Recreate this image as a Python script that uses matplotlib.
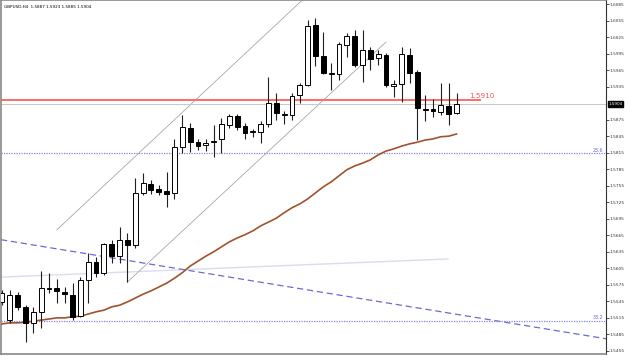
import numpy as np
import matplotlib
matplotlib.use("Agg")
import matplotlib.pyplot as plt

title = "GBPUSD,H4  1.5887 1.5923 1.5885 1.5904"

opens = [1.5544, 1.5511, 1.5557, 1.5535, 1.5506, 1.5526, 1.5567, 1.5569, 1.5562, 1.5557,
         1.5518, 1.5584, 1.5617, 1.5597, 1.5649, 1.5627, 1.5657, 1.5647, 1.5742, 1.5758,
         1.5749, 1.5745, 1.5742, 1.5825, 1.5860, 1.5834, 1.5829, 1.5834, 1.5840, 1.5865,
         1.5882, 1.5864, 1.5853, 1.5853, 1.5867, 1.5905, 1.5884, 1.5884, 1.5920, 1.5938,
         1.6047, 1.5991, 1.5958, 1.5958, 1.6011, 1.6027, 1.5974, 1.6002, 1.5987, 1.5992,
         1.5937, 1.5940, 1.5992, 1.5962, 1.5894, 1.5895, 1.5889, 1.5900, 1.5887]
highs = [1.5566, 1.5566, 1.5562, 1.5538, 1.5535, 1.5600, 1.5597, 1.5586, 1.5571, 1.5578,
         1.5589, 1.5633, 1.5626, 1.5651, 1.5657, 1.5680, 1.5669, 1.5769, 1.5778, 1.5765,
         1.5756, 1.5780, 1.5840, 1.5884, 1.5869, 1.5840, 1.5840, 1.5865, 1.5878, 1.5885,
         1.5885, 1.5869, 1.5858, 1.5873, 1.5953, 1.5923, 1.5891, 1.5923, 1.5942, 1.6056,
         1.6060, 1.6034, 1.5978, 1.6016, 1.6032, 1.6038, 1.6038, 1.6007, 1.6002, 1.5996,
         1.5947, 1.6007, 1.6005, 1.5965, 1.5920, 1.5913, 1.5942, 1.5942, 1.5923]
lows = [1.5538, 1.5506, 1.5529, 1.5471, 1.5488, 1.5497, 1.5560, 1.5542, 1.5542, 1.5511,
        1.5517, 1.5542, 1.5589, 1.5593, 1.5615, 1.5615, 1.5580, 1.5642, 1.5738, 1.5740,
        1.5738, 1.5716, 1.5731, 1.5815, 1.5816, 1.5820, 1.5818, 1.5807, 1.5815, 1.5860,
        1.5856, 1.5840, 1.5844, 1.5833, 1.5862, 1.5874, 1.5867, 1.5874, 1.5905, 1.5936,
        1.5972, 1.5958, 1.5929, 1.5947, 1.5989, 1.5971, 1.5943, 1.5965, 1.5974, 1.5934,
        1.5916, 1.5907, 1.5942, 1.5838, 1.5873, 1.5880, 1.5884, 1.5865, 1.5885]
closes = [1.5560, 1.5557, 1.5535, 1.5506, 1.5526, 1.5569, 1.5569, 1.5564, 1.5558, 1.5517,
          1.5584, 1.5617, 1.5597, 1.5649, 1.5627, 1.5657, 1.5647, 1.5742, 1.5760, 1.5747,
          1.5744, 1.5740, 1.5825, 1.5862, 1.5834, 1.5827, 1.5833, 1.5836, 1.5867, 1.5882,
          1.5862, 1.5851, 1.5854, 1.5867, 1.5905, 1.5887, 1.5885, 1.5918, 1.5938, 1.6045,
          1.5991, 1.5960, 1.5960, 1.6012, 1.6027, 1.5974, 1.6002, 1.5985, 1.5994, 1.5938,
          1.5939, 1.5994, 1.5960, 1.5896, 1.5893, 1.5891, 1.5902, 1.5885, 1.5904]
ma_values = [1.5504, 1.5506, 1.5506, 1.5507, 1.5509, 1.5511, 1.5513, 1.5515, 1.5515, 1.5517,
             1.5518, 1.5522, 1.5526, 1.5529, 1.5535, 1.5538, 1.5544, 1.5551, 1.5558, 1.5564,
             1.5571, 1.5578, 1.5587, 1.5597, 1.5609, 1.5618, 1.5627, 1.5635, 1.5644, 1.5653,
             1.5660, 1.5666, 1.5673, 1.5682, 1.5689, 1.5696, 1.5706, 1.5715, 1.5722, 1.5731,
             1.5742, 1.5753, 1.5762, 1.5773, 1.5784, 1.5791, 1.5796, 1.5802, 1.5811, 1.5818,
             1.5822, 1.5827, 1.5831, 1.5834, 1.5838, 1.5840, 1.5844, 1.5845, 1.5849]

# drawn objects: (bar index, price) endpoints
channel_upper_x = [7.0, 38.3]
channel_upper_y = [1.5675, 1.6092]
channel_lower_x = [16.0, 49.0]
channel_lower_y = [1.5580, 1.6016]
trend_x = [-0.13, 77.1]
trend_y = [1.5657, 1.5477]
faint_x = [-0.13, 56.9]
faint_y = [1.5589, 1.5622]
fib_levels = [1.5814, 1.5510]
fib_labels = ["23.6", "38.2"]
alert_price = 1.5910
alert_end = 61.0
bid_price = 1.5904
tick_prices = [1.5455, 1.5485, 1.5515, 1.5545, 1.5575, 1.5605, 1.5635, 1.5665, 1.5695,
               1.5725, 1.5755, 1.5785, 1.5815, 1.5845, 1.5875, 1.5935, 1.5965, 1.5995,
               1.6025, 1.6055, 1.6085]

fig = plt.figure(figsize=(6.25, 3.57), dpi=100)
ax = fig.add_axes([0.0016, 0.0084, 0.968, 0.9916])
xmin, xmax = -0.13, 77.07
ax.set_xlim(xmin, xmax)
ax.set_ylim(1.54494, 1.60923)

x = np.arange(len(opens))
o = np.array(opens); c = np.array(closes)
h = np.array(highs); l = np.array(lows)

# background objects
ax.plot(faint_x, faint_y, color="#dcdcf0", lw=1.0, zorder=1)
ax.plot(trend_x, trend_y, color="#6b6bcf", lw=0.9, dashes=(5, 3), zorder=1)
for lev, lab in zip(fib_levels, fib_labels):
    ax.axhline(lev, color="#8484e0", lw=0.9, ls=(0, (1, 1)), zorder=1)
    ax.text(xmax - 0.3, lev + 0.00012, lab, color="#6b6bcf", fontsize=3.4,
            ha="right", va="bottom")
ax.plot(channel_upper_x, channel_upper_y, color="#a8a8a8", lw=0.6, zorder=1)
ax.plot(channel_lower_x, channel_lower_y, color="#a8a8a8", lw=0.6, zorder=1)
ax.axhline(bid_price, color="#c8c8c8", lw=0.7, zorder=1)
ax.plot([xmin, alert_end], [alert_price, alert_price], color="#ff6a6a", lw=1.4, zorder=2)
ax.text(alert_end - 1.4, alert_price + 0.0003, "1.5910", color="#ff5050",
        fontsize=5.2, ha="left", va="bottom")

# moving average
ax.plot(x, ma_values, color="#a0522d", lw=1.2, zorder=3)

# candles
ax.vlines(x, l, h, color="#202020", lw=0.8, zorder=4)
up = c >= o
bottoms = np.minimum(o, c)
heights = np.maximum(np.abs(c - o), 0.00004)
ax.bar(x[up], heights[up], bottom=bottoms[up], width=0.62, color="white",
       edgecolor="black", linewidth=0.7, zorder=5)
ax.bar(x[~up], heights[~up], bottom=bottoms[~up], width=0.62, color="black",
       edgecolor="black", linewidth=0.7, zorder=5)

# axes styling
ax.yaxis.tick_right()
ax.set_yticks(tick_prices)
ax.set_yticklabels([f"{t:.4f}" for t in tick_prices], fontsize=3.1)
ax.tick_params(axis="y", length=2, width=0.6, pad=0.8, colors="#333333")
ax.set_xticks([])
for side in ["left", "top", "bottom"]:
    ax.spines[side].set_color("#888888")
    ax.spines[side].set_linewidth(1.2)
ax.spines["right"].set_color("#333333")
ax.spines["right"].set_linewidth(0.8)

ax.text(0.005, 0.985, title, transform=ax.transAxes, fontsize=3.0,
        ha="left", va="top", color="black")
ax.text(xmax + 0.3, bid_price, "1.5904", fontsize=3.0, color="white", ha="left",
        va="center", clip_on=False,
        bbox=dict(boxstyle="square,pad=0.2", fc="black", ec="black"))

fig.savefig("out.png", dpi=100)
